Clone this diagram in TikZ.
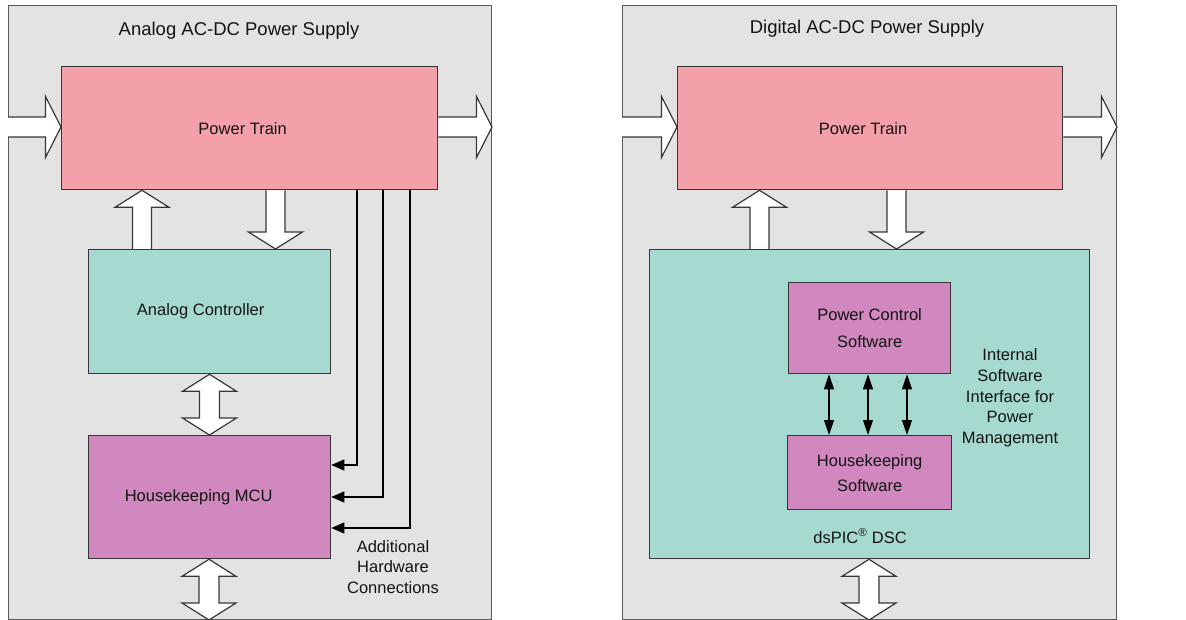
\documentclass[tikz,border=0pt]{standalone}
\usepackage{fontspec}
\setmainfont{Liberation Sans}
\usetikzlibrary{arrows.meta,calc}
\definecolor{panelgray}{RGB}{227,227,227}
\definecolor{ptpink}{RGB}{243,160,170}
\definecolor{ctlteal}{RGB}{166,218,209}
\definecolor{hkmag}{RGB}{208,136,190}
\definecolor{edge}{RGB}{55,55,55}
\definecolor{pedge}{RGB}{90,90,90}
\definecolor{ink}{RGB}{20,20,20}
% block arrows (x in pt, points as (node.anchor))
\newcommand\blkup[3]{\draw[blk] let \p1=#2, \p2=#3 in
  (#1pt-9.5pt,\y1) -- (#1pt-9.5pt,\y2-17pt) -- (#1pt-27pt,\y2-17pt) -- (#1pt,\y2)
  -- (#1pt+27pt,\y2-17pt) -- (#1pt+9.5pt,\y2-17pt) -- (#1pt+9.5pt,\y1);}
\newcommand\blkdown[3]{\draw[blk] let \p1=#2, \p2=#3 in
  (#1pt-9.5pt,\y1) -- (#1pt-9.5pt,\y2+17pt) -- (#1pt-27pt,\y2+17pt) -- (#1pt,\y2)
  -- (#1pt+27pt,\y2+17pt) -- (#1pt+9.5pt,\y2+17pt) -- (#1pt+9.5pt,\y1);}
\newcommand\blkdbl[3]{\draw[blk] let \p1=#2, \p2=#3 in
  (#1pt,\y1) -- (#1pt+27pt,\y1-17pt) -- (#1pt+10pt,\y1-17pt) -- (#1pt+10pt,\y2+17pt)
  -- (#1pt+27pt,\y2+17pt) -- (#1pt,\y2) -- (#1pt-27pt,\y2+17pt) -- (#1pt-10pt,\y2+17pt)
  -- (#1pt-10pt,\y1-17pt) -- (#1pt-27pt,\y1-17pt) -- cycle;}
\newcommand\blkright[3]{\draw[blk] let \p1=#2, \p2=#3 in
  (\x1,#1pt+10pt) -- (\x2-15.5pt,#1pt+10pt) -- (\x2-15.5pt,#1pt+30.5pt) -- (\x2,#1pt)
  -- (\x2-15.5pt,#1pt-30.5pt) -- (\x2-15.5pt,#1pt-10pt) -- (\x1,#1pt-10pt);}
\begin{document}
\begin{tikzpicture}[x=1pt,y=1pt,
  panel/.style={draw=pedge, fill=panelgray, line width=1pt, anchor=north west, inner sep=0pt},
  box/.style={draw=edge, line width=1.3pt, anchor=north west, inner sep=0pt, text=ink,
    align=center, font=\fontsize{16.5}{20.5}\selectfont},
  shiftleft/.style={execute at end node={\hspace*{#1}}},
  blk/.style={draw=edge, fill=white, line width=1.2pt, line join=miter},
  hw/.style={draw=black, line width=1.1pt, -{Triangle[length=13pt,width=11pt]}},
  sw/.style={draw=black, line width=1.1pt,
    {Triangle[length=15pt,width=10pt]}-{Triangle[length=15pt,width=10pt]}},
  lbl/.style={text=ink, align=center, font=\fontsize{16.5}{20.7}\selectfont},
  ttl/.style={text=ink, font=\fontsize{18.5}{22}\selectfont}]

\useasboundingbox (0,0) rectangle (1186,-620);
\fill[white] (0,0) rectangle (1186,-620);

% panels
\node[panel, minimum width=483pt, minimum height=614pt] (lp) at (8,-5) {};
\node[panel, minimum width=494pt, minimum height=614pt] (rp) at (622,-5) {};

\node[ttl] (ltitle) at (239,-31) {Analog AC-DC Power Supply};
\node[ttl] (rtitle) at (867,-29) {Digital AC-DC Power Supply};

% left boxes
\node[box, fill=ptpink, minimum width=376pt, minimum height=123pt, shiftleft=14pt] (ptL) at (61,-66) {Power Train};
\node[box, fill=ctlteal, minimum width=242pt, minimum height=124pt, shiftleft=18pt] (ac) at (88,-249) {Analog Controller};
\node[box, fill=hkmag, minimum width=242pt, minimum height=123pt, shiftleft=22pt] (hk) at (88,-435) {Housekeeping MCU};

% right boxes
\node[box, fill=ptpink, minimum width=385pt, minimum height=123pt, shiftleft=14pt] (ptR) at (677,-66) {Power Train};
\node[box, fill=ctlteal, minimum width=440pt, minimum height=309pt] (dsp) at (649,-249) {};
\node[box, fill=hkmag, minimum width=162pt, minimum height=91pt,
  font=\fontsize{16.5}{27}\selectfont] (pcs) at (788,-282) {Power Control\\Software};
\node[box, fill=hkmag, minimum width=164pt, minimum height=74pt,
  font=\fontsize{16.5}{25}\selectfont] (hks) at (787,-435) {Housekeeping\\Software};
\node[lbl] (dsplbl) at (860,-536) {dsPIC\textsuperscript{®} DSC};
\node[lbl] (iswlbl) at (1010,-398) {Internal\\Software\\Interface for\\Power\\Management};
\node[lbl] (hwlbl) at (393,-567) {Additional\\Hardware\\Connections};

% block arrows left
\blkright{-127}{(lp.west)}{(ptL.west)}
\blkright{-127}{(ptL.east)}{(lp.east)}
\blkup{142}{(ac.north)}{(ptL.south)}
\blkdown{275.5}{(ptL.south)}{(ac.north)}
\blkdbl{209.5}{(ac.south)}{(hk.north)}
\blkdbl{209}{(hk.south)}{(lp.south)}

% block arrows right
\blkright{-127}{(rp.west)}{(ptR.west)}
\blkright{-127}{(ptR.east)}{(rp.east)}
\blkup{759.5}{(dsp.north)}{(ptR.south)}
\blkdown{896.5}{(ptR.south)}{(dsp.north)}
\blkdbl{869}{(dsp.south)}{(rp.south)}

% hardware connections
\coordinate (hx1) at (357,0);
\coordinate (hx2) at (383,0);
\coordinate (hx3) at (410,0);
\coordinate (hy1) at (0,-465);
\coordinate (hy2) at (0,-497);
\coordinate (hy3) at (0,-528);
\draw[hw] (hx1 |- ptL.south) |- (hk.east |- hy1);
\draw[hw] (hx2 |- ptL.south) |- (hk.east |- hy2);
\draw[hw] (hx3 |- ptL.south) |- (hk.east |- hy3);

% software interface
\coordinate (sx1) at (829,0);
\coordinate (sx2) at (868,0);
\coordinate (sx3) at (907,0);
\draw[sw] (sx1 |- pcs.south) -- (sx1 |- hks.north);
\draw[sw] (sx2 |- pcs.south) -- (sx2 |- hks.north);
\draw[sw] (sx3 |- pcs.south) -- (sx3 |- hks.north);
\end{tikzpicture}
\end{document}
